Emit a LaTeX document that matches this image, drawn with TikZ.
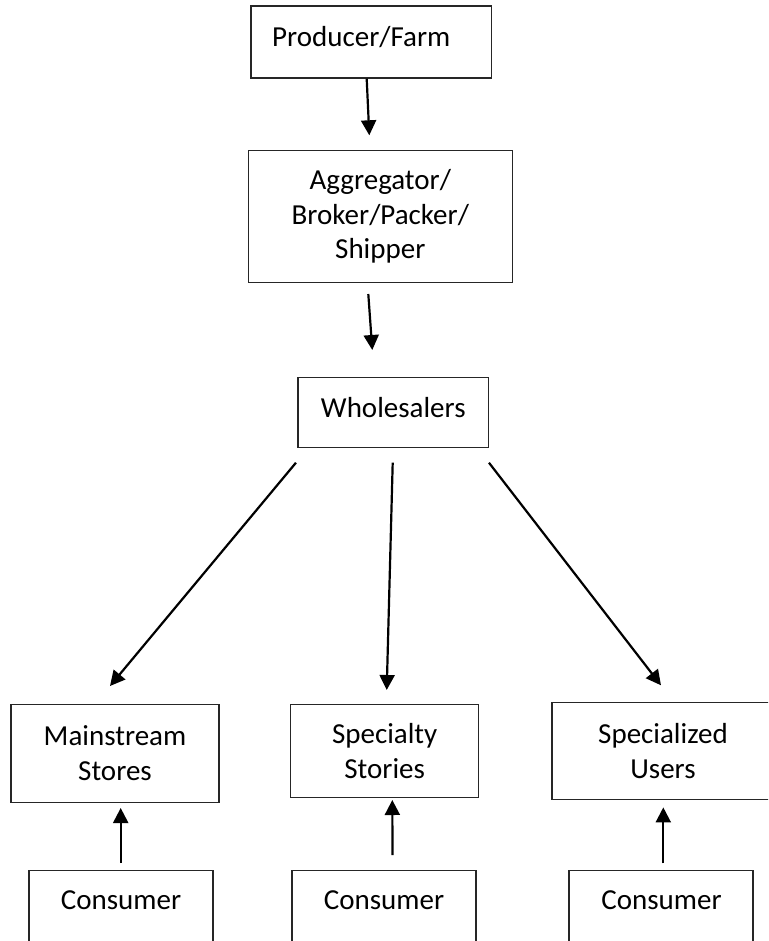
\documentclass[tikz,border=0pt]{standalone}
\usepackage{fontspec}
\setmainfont{Carlito}
\usetikzlibrary{arrows.meta}

\begin{document}
\begin{tikzpicture}[x=1pt,y=-1pt,
  box/.style={draw=black!85, line width=1.4pt, rectangle, inner sep=0pt, align=center,
              font=\fontsize{29}{34.5}\selectfont},
  lbl/.style={inner sep=0pt, font=\fontsize{29}{34.5}\selectfont},
  flow/.style={line width=2.2pt, -{Triangle[length=15pt,width=15pt]}}]
  \useasboundingbox (0,0) rectangle (768,941);
  \clip (0,0) rectangle (768,941);

  % supply chain boxes
  \node[box, minimum width=240.7pt, minimum height=72pt] (pf) at (371.3,42) {};
  \node[lbl, anchor=west] (pft) at (272,37) {Producer/Farm};
  \node[box, minimum width=264pt, minimum height=132.4pt] (ag) at (380.3,216.5)
       {Aggregator/\\Broker/Packer/\\Shipper};
  \node[box, minimum width=190.7pt, minimum height=70pt] (wh) at (393.3,412.3) {};
  \node[lbl] (wht) at (393.3,408) {Wholesalers};

  % retail level
  \node[box, minimum width=208pt, minimum height=98pt] (ms) at (115,753.3) {Mainstream\\Stores};
  \node[box, minimum width=188pt, minimum height=93pt] (sp) at (384.7,750.8) {Specialty\\Stories};
  \node[box, minimum width=222pt, minimum height=96.6pt] (su) at (663,751) {Specialized\\Users};

  % consumers (boxes run past the lower edge)
  \node[box, minimum width=184.3pt, minimum height=100pt, anchor=north] (c1) at (121,870) {};
  \node[box, minimum width=184pt, minimum height=100pt, anchor=north] (c2) at (384,870) {};
  \node[box, minimum width=184.3pt, minimum height=100pt, anchor=north] (c3) at (661,870) {};
  \node[lbl] (c1t) at (121,900) {Consumer};
  \node[lbl] (c2t) at (384,900) {Consumer};
  \node[lbl] (c3t) at (661.5,900) {Consumer};

  % downstream flow
  \draw[flow] ([xshift=-4.6pt]pf.south) -- ([xshift=-11pt,yshift=14.3pt]ag.north);
  \draw[flow] ([xshift=-12pt,yshift=-10.6pt]ag.south) -- ([xshift=-21pt,yshift=26.6pt]wh.north);
  \draw[flow] ([xshift=-1.3pt,yshift=-14.7pt]wh.south west) -- ([xshift=-5pt,yshift=17.6pt]ms.north);
  \draw[flow] ([xshift=-0.6pt,yshift=-14.7pt]wh.south) -- ([xshift=2pt,yshift=13.6pt]sp.north);
  \draw[flow] ([xshift=-0.4pt,yshift=-14.7pt]wh.south east) -- ([xshift=-2pt,yshift=16.7pt]su.north);

  % consumers pulling from retail
  \draw[flow] ([xshift=-0.3pt,yshift=7pt]c1.north) -- ([xshift=5.7pt,yshift=-5pt]ms.south);
  \draw[flow] ([xshift=8.5pt,yshift=15pt]c2.north) -- ([xshift=7.6pt,yshift=-2pt]sp.south);
  \draw[flow] ([xshift=2.3pt,yshift=6.7pt]c3.north) -- ([xshift=0.3pt,yshift=-7.4pt]su.south);
\end{tikzpicture}
\end{document}
